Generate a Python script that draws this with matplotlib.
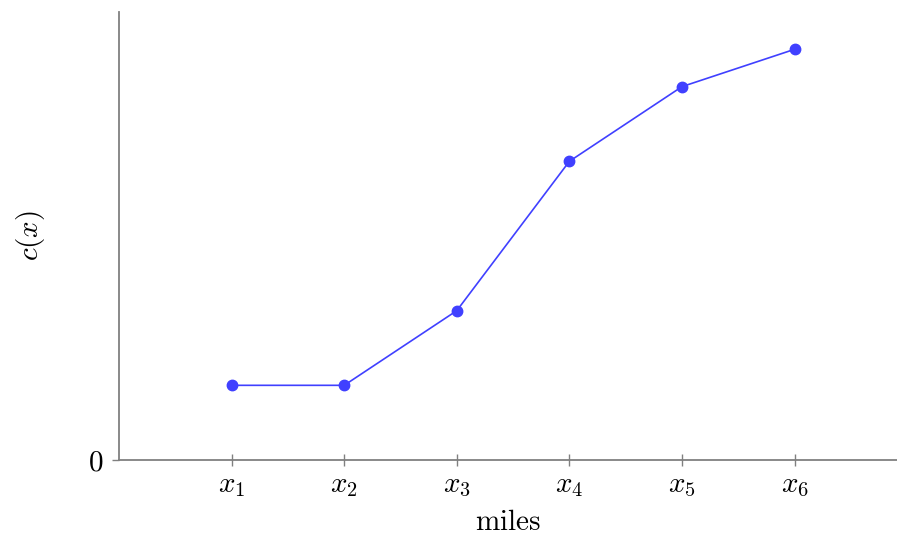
import matplotlib
matplotlib.use("Agg")
import matplotlib.pyplot as plt

plt.rcParams['mathtext.fontset'] = 'cm'
plt.rcParams['font.family'] = 'serif'
plt.rcParams['font.serif'] = ['cmr10', 'DejaVu Serif']
plt.rcParams['axes.formatter.use_mathtext'] = True

# data
x_vals = [1, 2, 3, 4, 5, 6]
cost = [1, 1, 2, 4, 5, 5.5]
x_labels = [r'$x_1$', r'$x_2$', r'$x_3$', r'$x_4$', r'$x_5$', r'$x_6$']

fig = plt.figure(figsize=(8.97, 5.37), dpi=100)
ax = fig.add_axes([0.1327, 0.1434, 0.8673, 0.8343])

ax.plot(x_vals, cost, color='#4040ff', linewidth=1.2, marker='o',
        markersize=7.5, clip_on=False)

ax.set_xlim(0, 6.91)
ax.set_ylim(0, 6)

fs = 21
ax.set_xticks(x_vals)
ax.set_xticklabels(x_labels, fontsize=fs)
ax.set_yticks([0])
ax.set_yticklabels([r'$0$'], fontsize=fs)

ax.spines['top'].set_visible(False)
ax.spines['right'].set_visible(False)
for s in ['left', 'bottom']:
    ax.spines[s].set_color('#808080')
    ax.spines[s].set_linewidth(1.3)

ax.tick_params(axis='x', direction='inout', length=8, width=1, color='#808080', pad=5)
ax.tick_params(axis='y', direction='out', length=5, width=1, color='#808080', pad=6)

ax.set_xlabel(r'$\mathrm{miles}$', fontsize=fs, labelpad=8)
ax.set_ylabel(r'$c(x)$', fontsize=fs, labelpad=30)

fig.savefig('out.png', dpi=100)
